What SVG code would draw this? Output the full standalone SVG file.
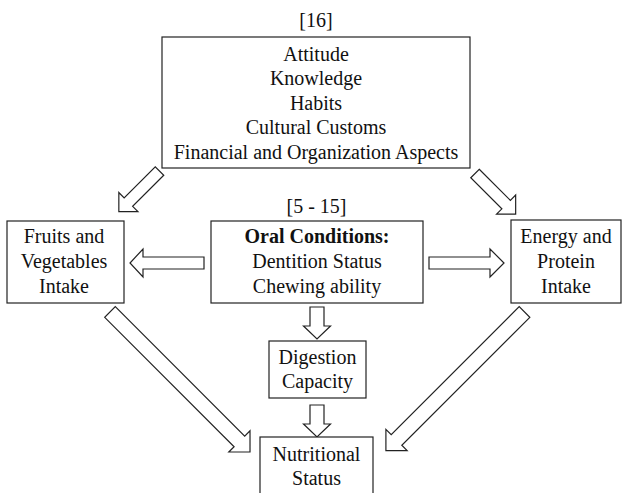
<svg xmlns="http://www.w3.org/2000/svg" width="623" height="493" viewBox="0 0 623 493">
<style>
.box{fill:#fff;stroke:#222;stroke-width:1.2}
.arr{fill:#fff;stroke:#222;stroke-width:1.2;stroke-linejoin:miter}
text{font-family:"Liberation Serif","Times New Roman",serif;font-size:20px;fill:#111;text-anchor:middle}
.b{font-weight:bold}
</style>
<rect width="623" height="493" fill="#fff"/>
<g id="connectors">
<polygon class="arr" transform="translate(159.5,171) rotate(135)" points="0,-6 44,-6 44,-13.5 57.5,0 44,13.5 44,6 0,6"/>
<polygon class="arr" transform="translate(475,173.5) rotate(45)" points="0,-6 44,-6 44,-13.5 57.5,0 44,13.5 44,6 0,6"/>
<polygon class="arr" transform="translate(204,263) rotate(180)" points="0,-6 61,-6 61,-14 74,0 61,14 61,6 0,6"/>
<polygon class="arr" transform="translate(429,263)" points="0,-6 61,-6 61,-14 75,0 61,14 61,6 0,6"/>
<polygon class="arr" transform="translate(317,307) rotate(90)" points="0,-7 19,-7 19,-13.5 32,0 19,13.5 19,7 0,7"/>
<polygon class="arr" transform="translate(317,405) rotate(90)" points="0,-7 19,-7 19,-13.5 32,0 19,13.5 19,7 0,7"/>
<polygon class="arr" transform="translate(110,312) rotate(45)" points="0,-7.5 183,-7.5 183,-15 198,0 183,15 183,7.5 0,7.5"/>
<polygon class="arr" transform="translate(524.5,312) rotate(135)" points="0,-7.5 181,-7.5 181,-15 196,0 181,15 181,7.5 0,7.5"/>
</g>
<g id="factors">
<text x="316" y="27">[16]</text>
<rect class="box" x="162" y="37" width="308" height="131"/>
<text x="316" y="61">Attitude</text>
<text x="316" y="85">Knowledge</text>
<text x="316" y="110">Habits</text>
<text x="316" y="134">Cultural Customs</text>
<text x="316" y="159">Financial and Organization Aspects</text>
</g>
<g id="fruits">
<rect class="box" x="7" y="221" width="117" height="82"/>
<text x="64" y="243">Fruits and</text>
<text x="64" y="268">Vegetables</text>
<text x="64" y="293">Intake</text>
</g>
<g id="oral">
<text x="316.5" y="213">[5 - 15]</text>
<rect class="box" x="211" y="221" width="212" height="82"/>
<text class="b" x="317" y="243">Oral Conditions:</text>
<text x="317" y="268">Dentition Status</text>
<text x="317" y="293">Chewing ability</text>
</g>
<g id="energy">
<rect class="box" x="511" y="220" width="110" height="83"/>
<text x="566" y="243">Energy and</text>
<text x="566" y="268">Protein</text>
<text x="566" y="293">Intake</text>
</g>
<g id="digestion">
<rect class="box" x="269" y="341" width="97" height="57"/>
<text x="317.5" y="364">Digestion</text>
<text x="317.5" y="388">Capacity</text>
</g>
<g id="nutritional">
<rect class="box" x="260" y="437" width="113" height="62"/>
<text x="316.5" y="461">Nutritional</text>
<text x="316.5" y="485">Status</text>
</g>
</svg>
